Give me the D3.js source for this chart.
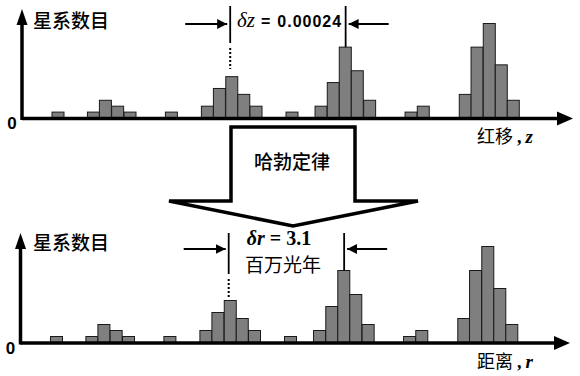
<!DOCTYPE html>
<html>
<head>
<meta charset="utf-8">
<script src="https://cdn.jsdelivr.net/npm/d3@7"></script>
<style>
  body { margin: 0; background: #fff; }
  svg { display: block; }
</style>
</head>
<body>
<div id="chart"></div>
<script>
// histogram bins: left edge (in bin widths from the axis) and galaxy count
const binStart = [2.5, 5.45, 6.45, 7.47, 8.5, 11.95, 14.95, 15.95, 16.98, 17.98, 19.0, 22.0,
                  24.42, 25.44, 26.44, 27.44, 28.47, 31.92, 32.94, 36.44, 37.42, 38.44, 39.44, 40.44];
const counts   = [1, 1, 3, 2, 1, 1, 2, 5, 7, 4, 2, 1,
                  2, 6, 12, 8, 3, 1, 2, 4, 12, 16, 9, 3];
// the two marked peaks
const markX = [17.35, 26.97];

const bins = binStart.map((s, i) => ({start: s, n: counts[i]}));

const W = 580, H = 376;
const svg = d3.select("#chart").append("svg")
  .attr("width", W).attr("height", H);

// panel setup: origin x, baseline, top of y range, arrow tips
const panels = [
  {x0: 22, base: 118, top: 23.5, yTip: 9, xTip: 573, yLabel: 21, xLabel: "红移", xVar: "z",
   markTop: 6, dotFrom: 48, dotTo: 69, arrowY: 24},
  {x0: 20.5, base: 342.5, top: 246.5, yTip: 233, xTip: 570, yLabel: 243, xLabel: "距离", xVar: "r",
   markTop: 233, dotFrom: 279, dotTo: 298, arrowY: 249}
];

svg.append("defs").append("marker")
  .attr("id", "ah")
  .attr("viewBox", "0 0 10 10")
  .attr("refX", 10).attr("refY", 5)
  .attr("markerWidth", 5).attr("markerHeight", 5)
  .attr("markerUnits", "strokeWidth")
  .attr("orient", "auto")
  .append("path").attr("d", "M0,0 L10,5 L0,10 Z").attr("fill", "#000");

panels.forEach(function(p) {
  const x = d3.scaleLinear().domain([0, 1]).range([p.x0, p.x0 + 12]);
  const y = d3.scaleLinear().domain([0, 16]).range([p.base, p.top]);
  const g = svg.append("g");

  // bars
  g.selectAll("rect")
    .data(bins)
    .join("rect")
      .attr("x", d => x(d.start))
      .attr("y", d => y(d.n))
      .attr("width", d => x(d.start + 1) - x(d.start))
      .attr("height", d => y(0) - y(d.n))
      .attr("fill", "#7f7f7f")
      .attr("stroke", "#1a1a1a")
      .attr("stroke-width", 1);

  // axes with arrow heads
  g.append("line")
    .attr("x1", p.x0).attr("x2", p.xTip - 14)
    .attr("y1", p.base + 0.5).attr("y2", p.base + 0.5)
    .attr("stroke", "#000").attr("stroke-width", 3.5);
  g.append("path")
    .attr("d", `M${p.xTip},${p.base + 0.5} L${p.xTip - 16},${p.base - 6.5} L${p.xTip - 16},${p.base + 7.5} Z`)
    .attr("fill", "#000");
  g.append("line")
    .attr("x1", p.x0).attr("x2", p.x0)
    .attr("y1", p.base + 2).attr("y2", p.yTip + 14)
    .attr("stroke", "#000").attr("stroke-width", 3.5);
  g.append("path")
    .attr("d", `M${p.x0},${p.yTip} L${p.x0 - 5.5},${p.yTip + 16} L${p.x0 + 5.5},${p.yTip + 16} Z`)
    .attr("fill", "#000");

  g.append("text")
    .attr("x", p.x0 - 10).attr("y", p.base + 11)
    .attr("text-anchor", "middle")
    .style("font-family", "Liberation Sans, Arial, sans-serif")
    .style("font-weight", "bold").style("font-size", "17px")
    .text("0");

  g.append("text")
    .attr("x", 33).attr("y", p.yLabel + 7)
    .style("font-family", "Noto Sans CJK SC, sans-serif")
    .style("font-size", "19px").style("font-weight", "500")
    .text("星系数目");

  const xl = g.append("text")
    .attr("x", 477).attr("y", p.base + 25)
    .style("font-family", "Noto Sans CJK SC, sans-serif")
    .style("font-size", "18px");
  xl.append("tspan").text(p.xLabel);
  xl.append("tspan").attr("dx", 4)
    .style("font-family", "Liberation Serif, Times New Roman, serif")
    .style("font-weight", "bold").text(",");
  xl.append("tspan").attr("dx", 4)
    .style("font-family", "Liberation Serif, Times New Roman, serif")
    .style("font-weight", "bold").style("font-style", "italic").style("font-size", "19px")
    .text(p.xVar);

  // peak markers
  markX.forEach(function(m, i) {
    const peak = bins.filter(b => m >= b.start && m < b.start + 1)[0];
    const mx = x(m);
    const solidEnd = i === 0 ? p.dotFrom - 5 : y(peak.n);
    g.append("line")
      .attr("x1", mx).attr("x2", mx)
      .attr("y1", p.markTop).attr("y2", solidEnd)
      .attr("stroke", "#000").attr("stroke-width", 1.8);
    if (i === 0) {
      g.append("line")
        .attr("x1", mx).attr("x2", mx)
        .attr("y1", p.dotFrom).attr("y2", p.dotTo)
        .attr("stroke", "#000").attr("stroke-width", 2)
        .attr("stroke-dasharray", "2,2");
    }
    const from = i === 0 ? mx - 45 : mx + 43;
    const to = i === 0 ? mx - 3 : mx + 3;
    g.append("line")
      .attr("x1", from).attr("x2", to)
      .attr("y1", p.arrowY).attr("y2", p.arrowY)
      .attr("stroke", "#000").attr("stroke-width", 2)
      .attr("marker-end", "url(#ah)");
  });
});

// annotation texts
const dz = svg.append("text").attr("x", 237).attr("y", 27);
dz.append("tspan")
  .style("font-family", "Liberation Serif, Times New Roman, serif")
  .style("font-style", "italic").style("font-size", "21px")
  .text("δz");
dz.append("tspan").attr("dx", 6)
  .style("font-family", "Liberation Sans, Arial, sans-serif")
  .style("font-weight", "bold").style("font-size", "16px")
  .text("=");
dz.append("tspan").attr("dx", 7)
  .style("font-family", "Liberation Sans, Arial, sans-serif")
  .style("font-weight", "bold").style("font-size", "16px")
  .style("letter-spacing", "1px")
  .text("0.00024");

const dr = svg.append("text").attr("x", 279).attr("y", 245).attr("text-anchor", "middle")
  .style("font-family", "Liberation Serif, Times New Roman, serif")
  .style("font-weight", "bold").style("font-size", "20px");
dr.append("tspan").style("font-style", "italic").text("δr");
dr.append("tspan").text(" = 3.1");

svg.append("text")
  .attr("x", 283).attr("y", 272).attr("text-anchor", "middle")
  .style("font-family", "Noto Sans CJK SC, sans-serif")
  .style("font-size", "19px")
  .text("百万光年");

// big down arrow between the panels
const arrowPts = [[231, 127], [355, 127], [355, 201], [418, 201], [293, 226], [169, 201], [231, 201]];
svg.append("path")
  .attr("d", d3.line()(arrowPts) + "Z")
  .attr("fill", "#fff")
  .attr("stroke", "#000")
  .attr("stroke-width", 3.5)
  .attr("stroke-linejoin", "miter");

svg.append("text")
  .attr("x", 292).attr("y", 169).attr("text-anchor", "middle")
  .style("font-family", "Noto Sans CJK SC, sans-serif")
  .style("font-size", "19px").style("font-weight", "500")
  .text("哈勃定律");
</script>
</body>
</html>
